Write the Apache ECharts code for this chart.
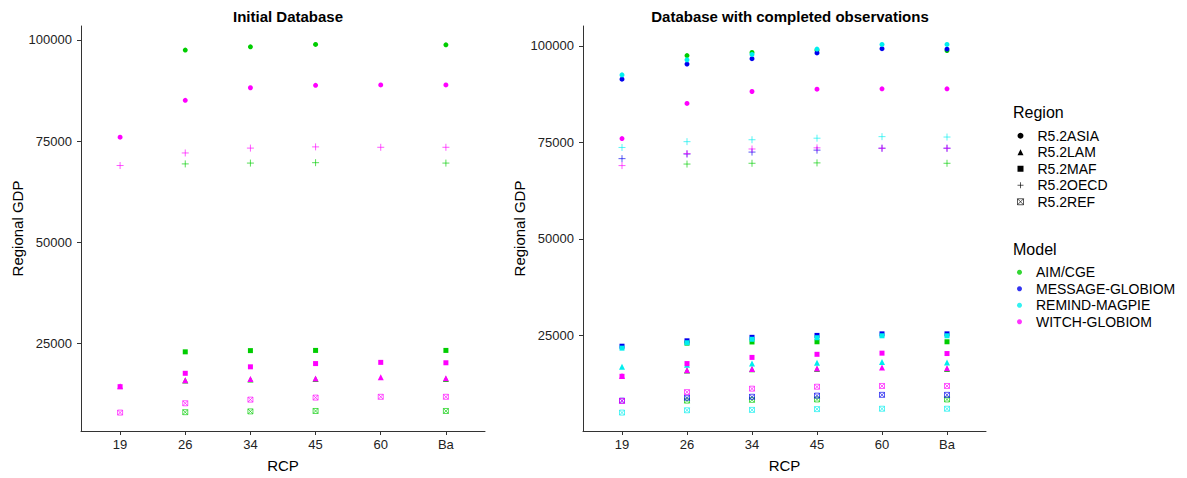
<!DOCTYPE html>
<html><head><meta charset="utf-8">
<script src="https://cdn.jsdelivr.net/npm/echarts@6/dist/echarts.min.js"></script>
<style>html,body{margin:0;padding:0;background:#fff}#c{width:1187px;height:478px}</style>
</head><body><div id="c"></div>
<script>
const categories = ['19', '26', '34', '45', '60', 'Ba'];
const regions = ['R5.2ASIA', 'R5.2LAM', 'R5.2MAF', 'R5.2OECD', 'R5.2REF'];
const models = ['AIM/CGE', 'MESSAGE-GLOBIOM', 'REMIND-MAGPIE', 'WITCH-GLOBIOM'];
const modelColors = ['#00CD00', '#0000EE', '#00EEEE', '#FF00FF'];
const yTicks = [25000, 50000, 75000, 100000];

// rows: ASIA, LAM, MAF, OECD, REF ; columns: categories
const initAIM = [
  [null, 97500, 98300, 98900, null, 98800],
  [null, 15900, 16200, 16300, null, 16300],
  [null, 23000, 23300, 23350, null, 23350],
  [null, 69400, 69600, 69700, null, 69600],
  [null, 8100, 8300, 8400, null, 8400]
];
const initWITCH = [
  [76000, 85100, 88200, 88800, 88900, 88900],
  [14500, 16000, 16300, 16400, 16700, 16500],
  [14400, 17700, 19300, 20100, 20400, 20300],
  [69000, 72100, 73300, 73600, 73500, 73500],
  [8000, 10300, 11200, 11700, 11900, 11900]
];
const compMESSAGE = [
  [91400, 95300, 96700, 98200, 99300, 99200],
  [null, null, null, null, null, null],
  [22200, 23600, 24500, 25000, 25400, 25400],
  [70800, 72000, 72500, 73000, 73500, 73500],
  [8100, 8850, 9100, 9400, 9600, 9600]
];
const compREMIND = [
  [92500, 96400, 97800, 99200, 100400, 100400],
  [16900, 17400, 17700, 17900, 18100, 18000],
  [21700, 23100, 24000, 24400, 24900, 24900],
  [73700, 75200, 75700, 76100, 76500, 76400],
  [5000, 5600, 5700, 5900, 6000, 6000]
];

const panels = [
  { title: 'Initial Database', data: [initAIM, null, null, initWITCH] },
  { title: 'Database with completed observations', data: [initAIM, compMESSAGE, compREMIND, initWITCH] }
];

const FONT = 'Liberation Sans, Arial, sans-serif';
const plusPath = 'path://M0,4L8,4M4,0L4,8';
const refPath = 'path://M0,0L6,0L6,6L0,6ZM0,0L6,6M6,0L0,6';
const regionSymbols = ['circle', 'triangle', 'rect', plusPath, refPath];
const regionSizes = [5, 6, 5, 7, 5];
const stroked = [false, false, false, true, true];

function styleFor(r, color) {
  if (stroked[r]) return { color: 'rgba(0,0,0,0)', borderColor: color, borderWidth: 1, opacity: 0.65 };
  return { color: color, opacity: 1 };
}

function range(p) {
  let mn = Infinity, mx = -Infinity;
  p.data.forEach(m => { if (m) m.forEach(row => row.forEach(v => { if (v != null) { mn = Math.min(mn, v); mx = Math.max(mx, v); } })); });
  const e = (mx - mn) * 0.05;
  return [mn - e, mx + e];
}

const grids = [
  { left: 81, top: 26, width: 404, height: 405 },
  { left: 583, top: 26, width: 403, height: 405 }
];
const axisLineStyle = { color: '#333', width: 1 };
const xAxes = [], yAxes = [], series = [];
panels.forEach((p, pi) => {
  const [mn, mx] = range(p);
  xAxes.push({
    type: 'value', gridIndex: pi, min: -0.6, max: 5.6,
    name: 'RCP', nameLocation: 'middle', nameGap: 27,
    nameTextStyle: { fontSize: 15, color: '#000', fontFamily: FONT },
    axisLine: { show: true, onZero: false, lineStyle: axisLineStyle },
    axisTick: { show: true, length: 4, lineStyle: axisLineStyle, customValues: [0, 1, 2, 3, 4, 5] },
    axisLabel: { fontSize: 13, color: '#222', fontFamily: FONT, margin: 7, customValues: [0, 1, 2, 3, 4, 5], formatter: v => categories[v] },
    splitLine: { show: false }
  });
  yAxes.push({
    type: 'value', gridIndex: pi, min: mn, max: mx,
    name: 'Regional GDP', nameLocation: 'middle', nameGap: 55, nameRotate: 90,
    nameTextStyle: { fontSize: 15, color: '#000', fontFamily: FONT },
    axisLine: { show: true, onZero: false, lineStyle: axisLineStyle },
    axisTick: { show: true, length: 4, lineStyle: axisLineStyle, customValues: yTicks },
    axisLabel: { fontSize: 13, color: '#222', fontFamily: FONT, margin: 9, customValues: yTicks, formatter: v => String(v) },
    splitLine: { show: false }
  });
  p.data.forEach((m, mi) => {
    if (!m) return;
    m.forEach((row, r) => {
      const pts = [];
      row.forEach((v, i) => { if (v != null) pts.push([i, v]); });
      if (!pts.length) return;
      series.push({
        type: 'scatter', name: p.title + '|' + models[mi] + '|' + regions[r],
        xAxisIndex: pi, yAxisIndex: pi, data: pts,
        symbol: regionSymbols[r], symbolSize: regionSizes[r],
        itemStyle: styleFor(r, modelColors[mi]), silent: true, z: 2 + mi
      });
    });
  });
});
// legend-only series
regions.forEach((rg, r) => series.push({ type: 'scatter', name: rg, xAxisIndex: 0, yAxisIndex: 0, data: [], symbol: regionSymbols[r], itemStyle: styleFor(r, '#000') }));
models.forEach((md, mi) => series.push({ type: 'scatter', name: md, xAxisIndex: 0, yAxisIndex: 0, data: [], symbol: 'circle', itemStyle: { color: modelColors[mi] } }));

const legendText = { fontSize: 14, color: '#000', fontFamily: FONT, lineHeight: 16.5, padding: [0, 0, 0, 9] };
const option = {
  animation: false,
  backgroundColor: '#fff',
  title: [
    { text: panels[0].title, left: 283, top: 4, textAlign: 'center', textStyle: { fontSize: 15, fontWeight: 'bold', color: '#000', fontFamily: FONT } },
    { text: panels[1].title, left: 785, top: 4, textAlign: 'center', textStyle: { fontSize: 15, fontWeight: 'bold', color: '#000', fontFamily: FONT } },
    { text: 'Region', left: 1013, top: 104, padding: 0, textStyle: { fontSize: 16, fontWeight: 'normal', color: '#000', fontFamily: FONT } },
    { text: 'Model', left: 1013, top: 241, padding: 0, textStyle: { fontSize: 16, fontWeight: 'normal', color: '#000', fontFamily: FONT } }
  ],
  grid: grids,
  xAxis: xAxes,
  yAxis: yAxes,
  legend: [
    {
      orient: 'vertical', left: 1017, top: 127.5, itemGap: 0, itemWidth: 6, itemHeight: 6, padding: 0,
      selectedMode: false, textStyle: legendText,
      data: regions.map((rg, r) => ({ name: rg, icon: regionSymbols[r], itemStyle: styleFor(r, '#000') }))
    },
    {
      orient: 'vertical', left: 1017, top: 264, itemGap: 0, itemWidth: 5, itemHeight: 5, padding: 0,
      selectedMode: false, textStyle: legendText,
      data: models.map((md, mi) => ({ name: md, icon: 'circle', itemStyle: { color: modelColors[mi] } }))
    }
  ],
  series: series
};
const chart = echarts.init(document.getElementById('c'), null, { renderer: 'svg' });
chart.setOption(option);
</script>
</body></html>
